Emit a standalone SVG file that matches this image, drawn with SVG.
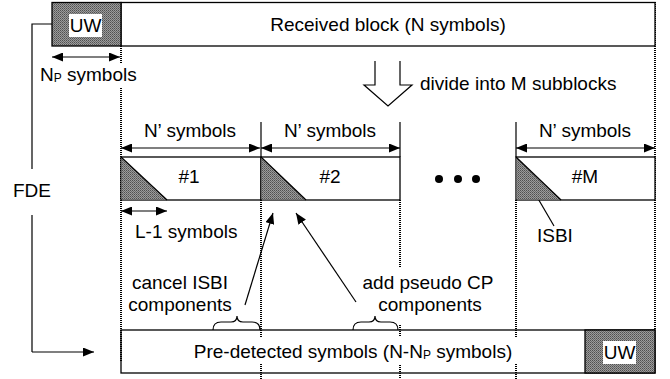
<svg xmlns="http://www.w3.org/2000/svg" width="670" height="379" viewBox="0 0 670 379">
<defs>
<pattern id="dots" width="2" height="2" patternUnits="userSpaceOnUse">
<rect width="2" height="2" fill="#9c9c9c"/>
<rect width="1" height="1" fill="#505050"/>
<rect x="1" y="1" width="1" height="1" fill="#6a6a6a"/>
</pattern>
<marker id="ah" viewBox="0 0 11 9" refX="11" refY="4.5" markerWidth="11" markerHeight="9" markerUnits="userSpaceOnUse" orient="auto-start-reverse">
<path d="M0,0 L11,4.5 L0,9 z" fill="#000"/>
</marker>
</defs>
<style>
text{font-family:"Liberation Sans",Arial,sans-serif;font-size:19px;fill:#000}
.c{text-anchor:middle}
.box{fill:#fff;stroke:#000;stroke-width:1.3}
.frame{fill:none;stroke:#000;stroke-width:1.3}
.uw{fill:url(#dots);stroke:#000;stroke-width:1.3}
.tri{fill:url(#dots);stroke:none}
.ln{fill:none;stroke:#000;stroke-width:1.2}
.dot{fill:none;stroke:#000;stroke-width:2;stroke-dasharray:1 1}
.arr{fill:none;stroke:#000;stroke-width:1.2;marker-end:url(#ah)}
.darr{fill:none;stroke:#000;stroke-width:1.2;marker-start:url(#ah);marker-end:url(#ah)}
</style>
<rect width="670" height="379" fill="#fff"/>

<g id="connectors">
<path class="dot" d="M121,46 V63 M121,88 V362"/>
<path class="dot" d="M261,200 V379"/>
<path class="dot" d="M400,200 V267 M400,325 V379"/>
<path class="dot" d="M516,200 V379"/>
<path class="dot" d="M655,2 V330"/>
<path class="ln" d="M261,122 V157 M400,122 V157 M516,122 V157"/>
<path class="ln" d="M52,24 H32 V169 M32,215 V352"/>
<path class="arr" d="M32,352 H94"/>
<path class="darr" d="M52,57 H120"/>
<path class="darr" d="M121,148 H260"/>
<path class="darr" d="M261,148 H400"/>
<path class="darr" d="M516,148 H655"/>
<path class="darr" d="M121,211 H167"/>
<path class="arr" d="M245,305 L273,213"/>
<path class="arr" d="M356,302 L296,213"/>
<path class="ln" d="M533,190 L554,226"/>
<path class="ln" d="M375,61 V85 H364 L388,106 L412,85 H400 V61"/>
<path class="ln" d="M213,330 Q213,322 221,322 H231 Q237,322 237,316 Q237,322 243,322 H252 Q260,322 260,330"/>
<path class="ln" d="M353,330 Q353,322 361,322 H369 Q375,322 375,316 Q375,322 381,322 H390 Q398,322 398,330"/>
</g>

<g id="received-block">
<rect class="box" x="121" y="2.5" width="534" height="43.5"/>
<text class="c" x="388" y="31">Received block (N symbols)</text>
</g>
<g id="uw-top">
<rect class="uw" x="52" y="2.5" width="69" height="43.5"/>
<rect x="69" y="14" width="33" height="23" fill="#fff"/>
<text class="c" x="85.5" y="32">UW</text>
</g>
<g id="np-label">
<text x="40" y="81">N<tspan font-size="12" dy="1">P</tspan><tspan dy="-1"> symbols</tspan></text>
</g>
<g id="divide-label">
<text x="420" y="90">divide into M subblocks</text>
</g>
<g id="fde-label">
<text class="c" x="32" y="197">FDE</text>
</g>

<g id="subblock-1">
<text class="c" x="190" y="137">N’ symbols</text>
<rect class="box" x="121" y="157" width="140" height="43"/>
<path class="tri" d="M121.7,157.7 V199.4 H167 z"/>
<path class="ln" d="M121,157 L167,200"/>
<text class="c" x="189" y="183">#1</text>
</g>
<g id="subblock-2">
<text class="c" x="330" y="137">N’ symbols</text>
<rect class="box" x="261" y="157" width="139" height="43"/>
<path class="tri" d="M261.7,157.7 V199.4 H306 z"/>
<path class="ln" d="M261,157 L306,200"/>
<text class="c" x="330" y="183">#2</text>
</g>
<g id="ellipsis">
<circle cx="439" cy="179" r="4"/>
<circle cx="458" cy="179" r="4"/>
<circle cx="476" cy="179" r="4"/>
</g>
<g id="subblock-M">
<text class="c" x="585" y="137">N’ symbols</text>
<rect class="box" x="516" y="157" width="139" height="43"/>
<path class="tri" d="M516.7,157.7 V199.4 H561 z"/>
<path class="ln" d="M516,157 L561,200"/>
<text class="c" x="585" y="183">#M</text>
</g>
<g id="l1-label">
<text x="135" y="238">L-1 symbols</text>
</g>
<g id="isbi-label">
<text x="537" y="242">ISBI</text>
</g>
<g id="cancel-label">
<text class="c" x="180" y="289">cancel ISBI</text>
<text class="c" x="180" y="311">components</text>
</g>
<g id="pseudo-label">
<text class="c" x="428" y="289">add pseudo CP</text>
<text class="c" x="430" y="311">components</text>
</g>

<g id="predetected-block">
<rect class="frame" x="121" y="330" width="534" height="43"/>
<rect x="188" y="337" width="330" height="27" fill="#fff"/>
<text class="c" x="353" y="358">Pre-detected symbols (N-N<tspan font-size="12" dy="1">P</tspan><tspan dy="-1"> symbols)</tspan></text>
</g>
<g id="uw-bottom">
<rect class="uw" x="585" y="330" width="70" height="43"/>
<rect x="603" y="341" width="33" height="23" fill="#fff"/>
<text class="c" x="619.5" y="359">UW</text>
</g>
</svg>
